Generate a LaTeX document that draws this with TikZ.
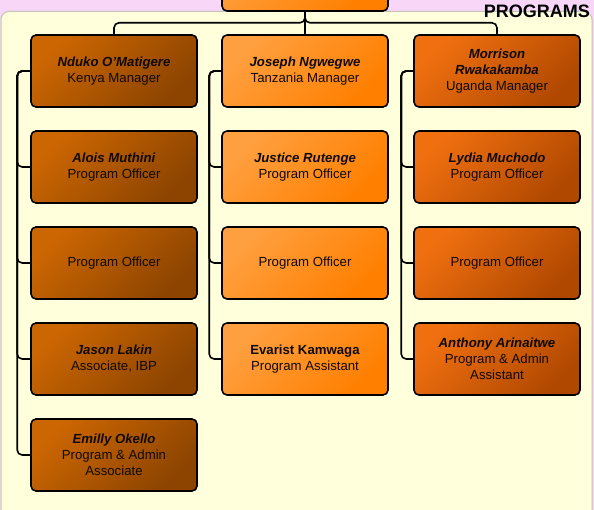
\documentclass[tikz,border=0pt]{standalone}
\usepackage{fontspec}
\setmainfont{Liberation Sans}
\usetikzlibrary{positioning}
\definecolor{pinkbg}{HTML}{F8D6F8}
\definecolor{panelbg}{HTML}{FFFFDB}
\definecolor{panelline}{HTML}{C4C4B8}
\definecolor{kenyaA}{HTML}{CC6602}
\definecolor{kenyaB}{HTML}{8C4400}
\definecolor{tanzA}{HTML}{FFA040}
\definecolor{tanzB}{HTML}{FF7F00}
\definecolor{ugaA}{HTML}{F07010}
\definecolor{ugaB}{HTML}{B04800}
\newcommand{\who}[1]{\textbf{\textit{#1}}\\}
\tikzstyle{every node}=[font=\fontsize{13.2}{16}\selectfont, align=center, text=black!92!brown]
\tikzstyle{staff}=[draw=black, line width=1.6pt, rounded corners=5pt, minimum width=166pt, minimum height=72pt, inner sep=2pt]
\tikzstyle{kenya}=[staff, top color=kenyaA, bottom color=kenyaB, shading angle=45]
\tikzstyle{tanz}=[staff, top color=tanzA, bottom color=tanzB, shading angle=45]
\tikzstyle{uga}=[staff, top color=ugaA, bottom color=ugaB, shading angle=45]
\tikzstyle{link}=[line width=1.6pt, rounded corners=5pt]

\begin{document}
\begin{tikzpicture}[x=1pt, y=-1pt]
    \useasboundingbox (0,0) rectangle (594,510);
    \clip (0,0) rectangle (594,510);
    \fill[pinkbg] (0,0) rectangle (594,510);
    \draw[draw=panelline, fill=panelbg, line width=1pt, rounded corners=8pt] (1,11.5) rectangle (592,530);
    \node[font=\fontsize{18}{18}\selectfont\bfseries, anchor=base east, text=black, inner sep=0pt] (title) at (590,18) {PROGRAMS};
    % head of programs, cut off at the top
    \node[tanz] (head) at (305,-25) {};
    % Kenya
    \node[kenya] (kman) at (114,71) {\who{Nduko O'Matigere}Kenya Manager};
    \node[kenya] (kone) at (114,167) {\who{Alois Muthini}Program Officer};
    \node[kenya] (ktwo) at (114,263) {Program Officer};
    \node[kenya] (kibp) at (114,359) {\who{Jason Lakin}Associate, IBP};
    \node[kenya] (kadm) at (114,455) {\who{Emilly Okello}Program \& Admin\\Associate};
    % Tanzania
    \node[tanz] (tman) at (305,71) {\who{Joseph Ngwegwe}Tanzania Manager};
    \node[tanz] (tone) at (305,167) {\who{Justice Rutenge}Program Officer};
    \node[tanz] (ttwo) at (305,263) {Program Officer};
    \node[tanz] (tass) at (305,359) {\textbf{Evarist Kamwaga}\\Program Assistant};
    % Uganda
    \node[uga] (uman) at (497,71) {\who{Morrison}\who{Rwakakamba}Uganda Manager};
    \node[uga] (uone) at (497,167) {\who{Lydia Muchodo}Program Officer};
    \node[uga] (utwo) at (497,263) {Program Officer};
    \node[uga] (uadm) at (497,359) {\who{Anthony Arinaitwe}Program \& Admin\\Assistant};
    % links from the head
    \draw[link] (head.south) -- ++(0,11) -| (kman.north);
    \draw[link] (head.south) -- (tman.north);
    \draw[link] (head.south) -- ++(0,11) -| (uman.north);
    % links down each column
    \draw[link] (kman.west) -- ++(-13,0) |- (kone.west);
    \draw[link] (kman.west) -- ++(-13,0) |- (ktwo.west);
    \draw[link] (kman.west) -- ++(-13,0) |- (kibp.west);
    \draw[link] (kman.west) -- ++(-13,0) |- (kadm.west);
    \draw[link] (tman.west) -- ++(-12,0) |- (tone.west);
    \draw[link] (tman.west) -- ++(-12,0) |- (ttwo.west);
    \draw[link] (tman.west) -- ++(-12,0) |- (tass.west);
    \draw[link] (uman.west) -- ++(-12,0) |- (uone.west);
    \draw[link] (uman.west) -- ++(-12,0) |- (utwo.west);
    \draw[link] (uman.west) -- ++(-12,0) |- (uadm.west);
\end{tikzpicture}
\end{document}
